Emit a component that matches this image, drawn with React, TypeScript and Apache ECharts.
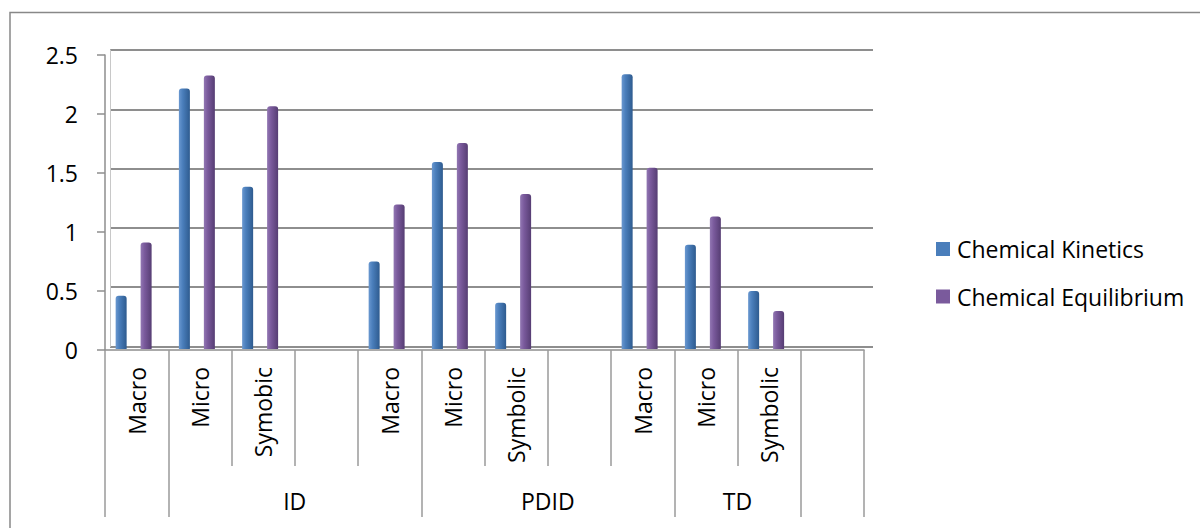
import React, { useEffect, useRef } from "react";
import * as echarts from "echarts";

const categories = ["Macro", "Micro", "Symobic", "", "Macro", "Micro", "Symbolic", "", "Macro", "Micro", "Symbolic", ""];
const kinetics: (number | null)[] = [0.45, 2.2, 1.37, null, 0.74, 1.58, 0.39, null, 2.32, 0.88, 0.49, null];
const equilibrium: (number | null)[] = [0.9, 2.31, 2.05, null, 1.22, 1.74, 1.31, null, 1.53, 1.12, 0.32, null];
const groupNames = ["ID", "PDID", "TD"];
const groupStarts = [1, 5, 9];
const groupEnds = [5, 9, 11];
const groupBoundaries = [0, 1, 5, 9, 11, 12];
const seriesNames = ["Chemical Kinetics", "Chemical Equilibrium"];
const yTicks = { min: 0, max: 2.5, interval: 0.5 };

const FONT = "'Open Sans', 'Noto Sans', sans-serif";
const FS = 23;
const GRAY = "#8e8e8e";
const BLUE = "#4A7EBB";
const PURPLE = "#7A5A9C";

export default function App() {
  const ref = useRef<HTMLDivElement>(null);
  useEffect(() => {
    if (!ref.current) return;
    const chart = echarts.init(ref.current, undefined, { renderer: "svg" });
    const groupCenters = groupStarts.map((s, i) => (s + groupEnds[i]) / 2);
    const blueGrad = new echarts.graphic.LinearGradient(0, 0, 1, 0, [
      { offset: 0, color: "#6a98d0" },
      { offset: 0.35, color: "#4A7EBB" },
      { offset: 1, color: "#2e5b8f" },
    ]);
    const purpleGrad = new echarts.graphic.LinearGradient(0, 0, 1, 0, [
      { offset: 0, color: "#9277b3" },
      { offset: 0.35, color: "#7A5A9C" },
      { offset: 1, color: "#563d73" },
    ]);
    chart.setOption({
      animation: false,
      backgroundColor: "#fff",
      textStyle: { fontFamily: FONT },
      graphic: [
        {
          type: "rect",
          shape: { x: 10, y: 12.5, width: 1300, height: 700 },
          style: { fill: "none", stroke: "#888", lineWidth: 1.5 },
          silent: true,
          z: -10,
        },
      ],
      legend: {
        orient: "vertical",
        left: 936,
        top: 236,
        padding: 0,
        itemWidth: 14,
        itemHeight: 14,
        itemGap: 21.5,
        icon: "rect",
        textStyle: { fontSize: FS, color: "#000", fontFamily: FONT, lineHeight: 26, padding: [0, 0, 0, 2] },
        data: [
          { name: seriesNames[0], itemStyle: { color: BLUE } },
          { name: seriesNames[1], itemStyle: { color: PURPLE } },
        ],
      },
      grid: [
        { left: 105, right: 336, top: 55, bottom: 178 },
        { left: 110, right: 327, top: 50, bottom: 181.5 },
        { left: 102, right: 339, top: 53, bottom: 179 },
      ],
      xAxis: [
        {
          type: "category",
          gridIndex: 0,
          data: categories,
          boundaryGap: true,
          axisLine: { show: true, lineStyle: { color: GRAY, width: 1.5 } },
          axisTick: { show: true, length: 116, lineStyle: { color: "#9a9a9a", width: 1.5 } },
          axisLabel: {
            rotate: 90,
            interval: 0,
            margin: 17,
            fontSize: FS,
            color: "#000",
            fontFamily: FONT,
          },
          splitLine: { show: false },
        },
        {
          type: "value",
          gridIndex: 0,
          position: "bottom",
          offset: 116,
          min: 0,
          max: categories.length,
          axisLine: { show: false },
          axisTick: {
            show: true,
            length: 51,
            customValues: groupBoundaries,
            lineStyle: { color: "#9a9a9a", width: 1.5 },
          },
          axisLabel: {
            show: true,
            customValues: groupCenters,
            margin: 23,
            fontSize: FS,
            color: "#000",
            fontFamily: FONT,
            formatter: (v: number) => {
              const i = groupCenters.indexOf(v);
              return i >= 0 ? groupNames[i] : "";
            },
          },
          splitLine: { show: false },
        },
        {
          type: "category",
          gridIndex: 1,
          data: categories,
          show: false,
        },
        {
          type: "category",
          gridIndex: 2,
          data: categories,
          show: false,
        },
      ],
      yAxis: [
        {
          type: "value",
          gridIndex: 0,
          min: yTicks.min,
          max: yTicks.max,
          interval: yTicks.interval,
          axisLine: { show: true, lineStyle: { color: GRAY, width: 1.5 } },
          axisTick: { show: true, length: 8, lineStyle: { color: GRAY, width: 1.5 } },
          axisLabel: { margin: 27, fontSize: FS, color: "#000", fontFamily: FONT },
          splitLine: { show: false },
        },
        {
          type: "value",
          gridIndex: 1,
          min: yTicks.min,
          max: yTicks.max,
          interval: yTicks.interval,
          axisLine: { show: true, lineStyle: { color: "#c8c8c8", width: 1 } },
          axisTick: { show: false },
          axisLabel: { show: false },
          splitLine: { show: true, lineStyle: { color: GRAY, width: 2 } },
        },
        {
          type: "value",
          gridIndex: 2,
          min: yTicks.min,
          max: yTicks.max,
          show: false,
          splitLine: { show: false },
        },
      ],
      series: [
        {
          name: seriesNames[0],
          type: "bar",
          xAxisIndex: 3,
          yAxisIndex: 2,
          data: kinetics,
          barWidth: 11,
          barGap: "127%",
          itemStyle: { color: blueGrad, borderRadius: [3, 3, 0, 0] },
          z: 5,
        },
        {
          name: seriesNames[1],
          type: "bar",
          xAxisIndex: 3,
          yAxisIndex: 2,
          data: equilibrium,
          barWidth: 11,
          barGap: "127%",
          itemStyle: { color: purpleGrad, borderRadius: [3, 3, 0, 0] },
          z: 5,
        },
      ],
    });
    return () => chart.dispose();
  }, []);
  return (
    <div
      ref={ref}
      style={{ position: "absolute", left: 0, top: 0, width: 1200, height: 528, background: "#fff" }}
    />
  );
}
